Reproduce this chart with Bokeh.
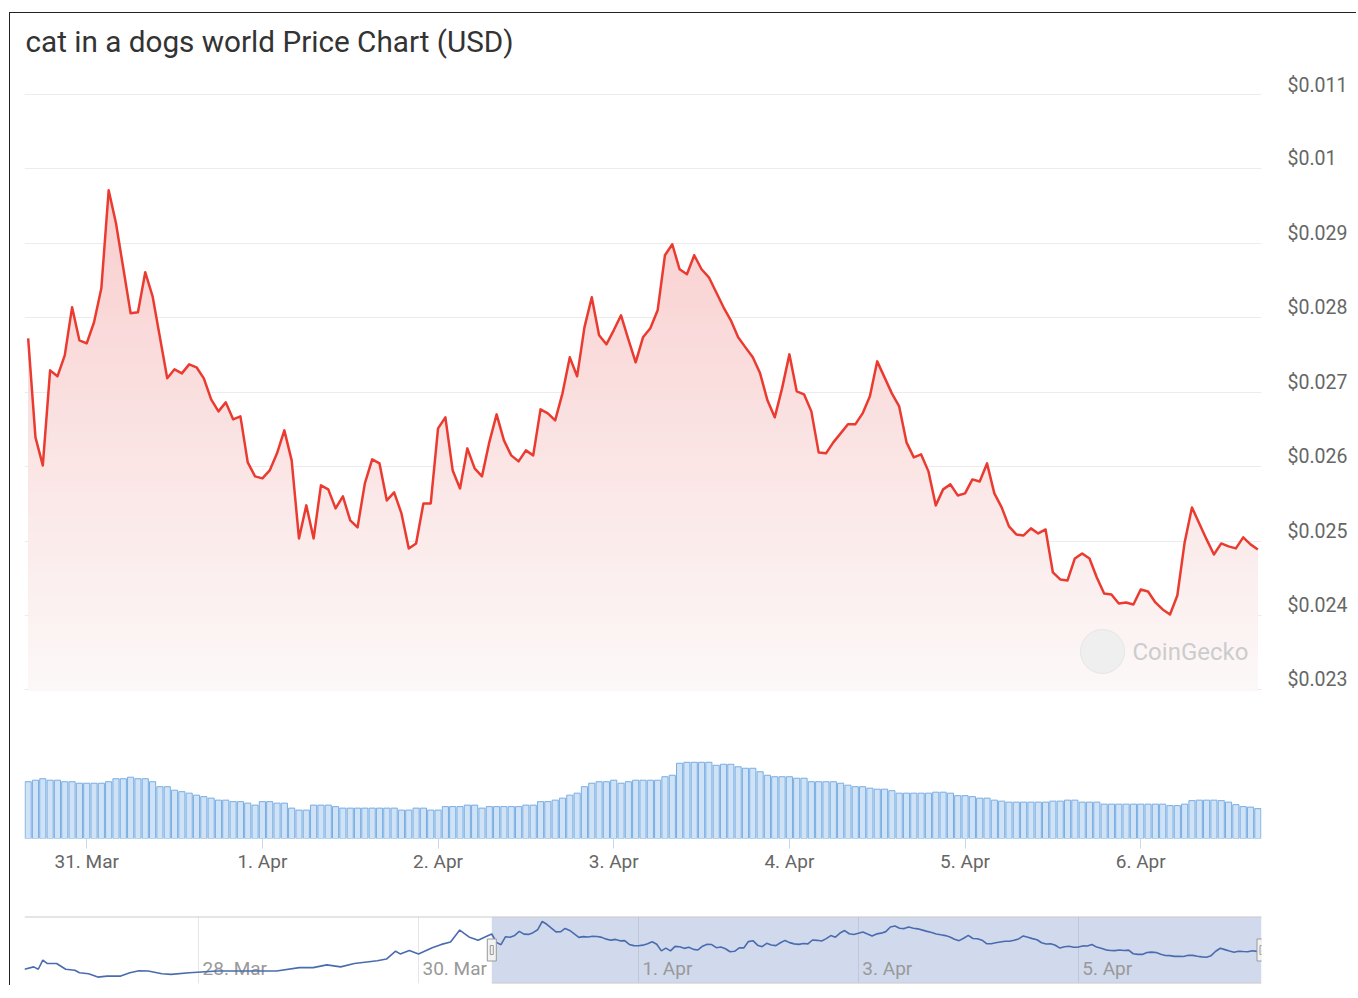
import numpy as np
import pandas as pd
from bokeh.plotting import figure
from bokeh.models import (Range1d, LinearAxis, FixedTicker, BoxAnnotation, Label, Grid)
from bokeh.layouts import column
from bokeh.embed import file_html
from bokeh.resources import INLINE
from bokeh.core.properties import value

TITLE = "cat in a dogs world Price Chart (USD)"
PRICE_START = "2024-03-30 16:00"   # hourly points

price_usd = [
    0.027724, 0.026394, 0.026017, 0.027294, 0.027214, 0.027496, 0.028141, 0.027698, 0.027657, 0.027940,
    0.028397, 0.029714, 0.029270, 0.028665, 0.028060, 0.028074, 0.028612, 0.028289, 0.027738, 0.027187,
    0.027308, 0.027254, 0.027375, 0.027335, 0.027187, 0.026905, 0.026743, 0.026864, 0.026636, 0.026676,
    0.026058, 0.025870, 0.025843, 0.025950, 0.026179, 0.026488, 0.026085, 0.025036, 0.025480, 0.025036,
    0.025749, 0.025695, 0.025440, 0.025601, 0.025278, 0.025184, 0.025776, 0.026098, 0.026044, 0.025547,
    0.025655, 0.025372, 0.024902, 0.024969, 0.025507, 0.025507, 0.026515, 0.026663, 0.025950, 0.025708,
    0.026246, 0.025977, 0.025870, 0.026327, 0.026703, 0.026353, 0.026152, 0.026071, 0.026219, 0.026152,
    0.026770, 0.026716, 0.026622, 0.026985, 0.027469, 0.027214, 0.027872, 0.028276, 0.027765, 0.027644,
    0.027832, 0.028034, 0.027711, 0.027402, 0.027738, 0.027859, 0.028101, 0.028840, 0.028988, 0.028652,
    0.028585, 0.028840, 0.028652, 0.028544, 0.028343, 0.028141, 0.027966, 0.027738, 0.027603, 0.027469,
    0.027254, 0.026891, 0.026663, 0.027052, 0.027509, 0.027012, 0.026972, 0.026743, 0.026192, 0.026179,
    0.026327, 0.026448, 0.026569, 0.026569, 0.026716, 0.026945, 0.027415, 0.027200, 0.026985, 0.026810,
    0.026327, 0.026125, 0.026165, 0.025937, 0.025480, 0.025695, 0.025762, 0.025614, 0.025641, 0.025829,
    0.025802, 0.026044, 0.025641, 0.025453, 0.025198, 0.025090, 0.025077, 0.025171, 0.025103, 0.025157,
    0.024579, 0.024485, 0.024472, 0.024767, 0.024835, 0.024767, 0.024512, 0.024297, 0.024284, 0.024163,
    0.024176, 0.024149, 0.024351, 0.024324, 0.024176, 0.024082, 0.024015, 0.024270, 0.024983, 0.025453,
    0.025238, 0.025023, 0.024821, 0.024969, 0.024929, 0.024902, 0.025050, 0.024956, 0.024888,
]

volume_k = [
    114, 117, 120, 117, 117, 114, 114, 111, 111, 111, 111, 114, 120, 120, 123, 120, 120, 114, 104, 104,
    97, 94, 91, 87, 84, 81, 77, 77, 74, 74, 71, 67, 74, 74, 71, 71, 61, 57, 57, 67,
    67, 67, 64, 61, 61, 61, 61, 61, 61, 61, 61, 57, 57, 61, 61, 57, 57, 64, 64, 64,
    67, 67, 61, 64, 64, 64, 64, 64, 67, 67, 74, 74, 77, 81, 87, 91, 104, 111, 114, 114,
    117, 111, 114, 117, 117, 117, 117, 124, 127, 151, 153, 153, 153, 153, 147, 149, 149, 144, 141, 141,
    134, 127, 124, 124, 124, 121, 121, 114, 114, 114, 114, 111, 107, 104, 104, 101, 99, 99, 96, 91,
    91, 91, 91, 91, 93, 93, 91, 86, 86, 84, 81, 81, 77, 75, 73, 73, 73, 73, 73, 73,
    75, 75, 77, 77, 73, 73, 73, 69, 69, 69, 69, 69, 69, 69, 69, 69, 66, 66, 69, 76,
    77, 77, 77, 76, 73, 68, 64, 63, 60,
]

nav_early_times = [
    "2024-03-26 10:00", "2024-03-26 12:00", "2024-03-26 13:00", "2024-03-26 14:00", "2024-03-26 15:00",
    "2024-03-26 17:00", "2024-03-26 19:00", "2024-03-26 21:00", "2024-03-26 22:00", "2024-03-27 00:00",
    "2024-03-27 02:00", "2024-03-27 04:00", "2024-03-27 07:00", "2024-03-27 09:00", "2024-03-27 11:00",
    "2024-03-27 13:00", "2024-03-27 16:00", "2024-03-27 18:00", "2024-03-27 22:00", "2024-03-28 04:00",
    "2024-03-28 10:00", "2024-03-28 17:00", "2024-03-28 22:00", "2024-03-29 01:00", "2024-03-29 04:00",
    "2024-03-29 07:00", "2024-03-29 10:00", "2024-03-29 15:00", "2024-03-29 17:00", "2024-03-29 19:00",
    "2024-03-29 20:00", "2024-03-29 22:00", "2024-03-30 00:00", "2024-03-30 03:00", "2024-03-30 05:00",
    "2024-03-30 07:00", "2024-03-30 09:00", "2024-03-30 11:00", "2024-03-30 13:00", "2024-03-30 15:00",
]
nav_early_price = [
    0.02211, 0.02249, 0.02211, 0.02358, 0.02302, 0.02302, 0.02211, 0.02195, 0.02156, 0.02139,
    0.02086, 0.02102, 0.02102, 0.02156, 0.02188, 0.02183, 0.02139, 0.02130, 0.02156, 0.02183,
    0.02183, 0.02183, 0.02237, 0.02237, 0.02281, 0.02249, 0.02302, 0.02346, 0.02374, 0.02498,
    0.02455, 0.02509, 0.02455, 0.02553, 0.02607, 0.02644, 0.02835, 0.02726, 0.02672, 0.02742,
]

y_ticks_mills = [23, 24, 25, 26, 27, 28, 29, 30, 31]
y_tick_labels = ["$0.023", "$0.024", "$0.025", "$0.026", "$0.027", "$0.028", "$0.029", "$0.01", "$0.011"]
x_tick_days = ["2024-03-31", "2024-04-01", "2024-04-02", "2024-04-03", "2024-04-04", "2024-04-05", "2024-04-06"]
x_tick_labels = ["31. Mar", "1. Apr", "2. Apr", "3. Apr", "4. Apr", "5. Apr", "6. Apr"]
nav_tick_days = ["2024-03-28", "2024-03-30", "2024-04-01", "2024-04-03", "2024-04-05"]
nav_tick_labels = ["28. Mar", "30. Mar", "1. Apr", "3. Apr", "5. Apr"]

# ---------------------------------------------------------------- helpers
HOUR = 3600 * 1000
FONT = "Roboto"

def to_ms(ts):
    return (pd.DatetimeIndex(ts).asi8 // 10**6)

def drop_default_grids(p):
    p.center = [c for c in p.center if not isinstance(c, Grid)]

times = pd.date_range(PRICE_START, periods=len(price_usd), freq="h")
x = to_ms(times).astype(float)
price = np.array(price_usd)
vol = np.array(volume_k, dtype=float)
x0, x1 = x[0], x[-1]

FRAME_W = 1237
LEFT = 14
RIGHT = 95
COMMON = dict(output_backend="svg", toolbar_location=None, outline_line_color=None,
              min_border_left=LEFT, min_border_right=RIGHT)

# ---------------------------------------------------------------- title strip
TITLE_H = 60
pT = figure(frame_width=FRAME_W, frame_height=TITLE_H, x_range=Range1d(0, 1), y_range=Range1d(0, 1),
            x_axis_location=None, y_axis_location=None, min_border_top=0, min_border_bottom=0, **COMMON)
drop_default_grids(pT)
pT.text(x=[0], y=[1 - 28 / TITLE_H], text=[TITLE], x_offset=1, text_align="left",
        text_baseline="middle", text_font=value(FONT), text_font_size="29.7px", text_color="#333333")

# ---------------------------------------------------------------- price pane
xr = Range1d(x0 - 0.5 * HOUR, x1 + 0.5 * HOUR)
PX_PER_MILL = 74.4
FRAME_H = 614
pad_top = 11.0 / PX_PER_MILL / 1000
pad_bot = 7.5 / PX_PER_MILL / 1000
yr = Range1d(y_ticks_mills[0] / 1000 - pad_bot, y_ticks_mills[-1] / 1000 + pad_top)
lab_shift = 10 / PX_PER_MILL / 1000

pA = figure(frame_width=FRAME_W, frame_height=FRAME_H, x_range=xr, y_range=yr,
            x_axis_location=None, y_axis_location=None, min_border_top=10, min_border_bottom=0, **COMMON)
drop_default_grids(pA)
pA.add_layout(Grid(dimension=1, ticker=FixedTicker(ticks=[v / 1000 for v in y_ticks_mills]),
                   grid_line_color="#ececec", grid_line_width=1))

pA.extra_y_ranges = {"lab": Range1d((yr.start - lab_shift) * 1000, (yr.end - lab_shift) * 1000)}
yax = LinearAxis(y_range_name="lab", ticker=FixedTicker(ticks=y_ticks_mills),
                 major_label_overrides=dict(zip(y_ticks_mills, y_tick_labels)),
                 axis_line_color=None, major_tick_line_color=None, minor_tick_line_color=None,
                 major_tick_out=0, major_tick_in=0, major_label_standoff=26,
                 major_label_text_font=FONT, major_label_text_font_size="19.5px",
                 major_label_text_color="#666666")
pA.add_layout(yax, "right")

# gradient fill as stacked layers
fill_base = yr.start + 7.0 / PX_PER_MILL / 1000
pmax = price.max()
top_rgb = np.array([249, 206, 206])
bot_rgb = np.array([252, 248, 248])
N = 60
levels = np.linspace(fill_base, pmax, N + 1)[1:]
for k in range(N - 1, -1, -1):
    L = levels[k]
    tcol = (L - (pmax - fill_base) / (2 * N) - fill_base) / (pmax - fill_base)
    rgb = bot_rgb + (top_rgb - bot_rgb) * tcol
    col = "#%02x%02x%02x" % tuple(int(round(c)) for c in rgb)
    pA.varea(x=x, y1=fill_base, y2=np.minimum(price, L), fill_color=col, fill_alpha=1.0)

pA.line(x=x, y=price, line_color="#eb3b30", line_width=2.5, line_join="round")

# watermark (position in frame pixels, converted through the ranges)
wm_x = xr.start + 1078 / FRAME_W * (xr.end - xr.start)
wm_y = yr.start + 46 / FRAME_H * (yr.end - yr.start)
pA.scatter(x=[wm_x], y=[wm_y], size=44, marker="circle", fill_color="#efefef", line_color="#e6e6e6")
pA.add_layout(Label(x=1108, y=46, x_units="screen", y_units="screen", text="CoinGecko",
                    text_font=FONT, text_font_size="24px", text_color="#cccccc",
                    text_align="left", text_baseline="middle"))

# ---------------------------------------------------------------- volume pane
pB = figure(frame_width=FRAME_W, frame_height=141, x_range=xr,
            y_range=Range1d(0, vol.max() * 1.85),
            x_axis_location="below", y_axis_location=None, min_border_top=0, min_border_bottom=52,
            **COMMON)
drop_default_grids(pB)
pB.vbar(x=x, top=vol, bottom=0, width=0.84 * HOUR, fill_color="#cfe2f6", line_color="#78ade2",
        line_width=1)
x_tick_ms = [int(v) for v in to_ms(x_tick_days)]
pB.xaxis.ticker = FixedTicker(ticks=x_tick_ms)
pB.xaxis.major_label_overrides = dict(zip(x_tick_ms, x_tick_labels))
pB.xaxis.axis_line_color = None
pB.xaxis.major_tick_line_color = "#ccd6eb"
pB.xaxis.major_tick_out = 10
pB.xaxis.major_tick_in = 0
pB.xaxis.minor_tick_line_color = None
pB.xaxis.major_label_standoff = 1
pB.xaxis.major_label_text_font = FONT
pB.xaxis.major_label_text_font_size = "19px"
pB.xaxis.major_label_text_color = "#666666"

# ---------------------------------------------------------------- navigator
nav_x = np.concatenate([to_ms(nav_early_times).astype(float), x])
nav_y = np.concatenate([np.array(nav_early_price), price])
lo, hi = nav_y.min(), nav_y.max()
span = hi - lo
nyr = Range1d(lo - span * 0.115, hi + span * 0.09)
nxr = Range1d(nav_x[0], x1)
pC = figure(frame_width=FRAME_W, frame_height=67, x_range=nxr, y_range=nyr,
            x_axis_location=None, y_axis_location=None, min_border_top=26, min_border_bottom=2,
            **COMMON)
drop_default_grids(pC)
nav_tick_ms = [int(v) for v in to_ms(nav_tick_days)]
pC.add_layout(Grid(dimension=0, ticker=FixedTicker(ticks=nav_tick_ms), grid_line_color="#e6e6e6"))
pC.add_layout(BoxAnnotation(left=x0, right=x1, fill_color="#6685c2", fill_alpha=0.3,
                            line_color=None, level="underlay"))
pC.text(x=nav_tick_ms, y=[nyr.start] * len(nav_tick_ms), text=nav_tick_labels,
        text_align="left", text_baseline="alphabetic", x_offset=4, y_offset=-15,
        text_font=value(FONT), text_font_size="19px", text_color="#999999")
pC.line(x=nav_x, y=nav_y, line_color="#4a6cae", line_width=1.6)
pC.line(x=[nav_x[0], x1], y=[nyr.end, nyr.end], line_color="#cccccc", line_width=2)
pC.line(x=[x0, x1], y=[nyr.start, nyr.start], line_color="#cccccc", line_width=2)
mid = (nyr.start + nyr.end) / 2
pC.rect(x=[x0, x1], y=[mid, mid], width=9, height=22, width_units="screen", height_units="screen",
        fill_color="#f2f2f2", line_color="#999999", line_width=1)
pC.rect(x=[x0, x1], y=[mid, mid], width=3, height=9, width_units="screen", height_units="screen",
        fill_color="#f2f2f2", line_color="#999999", line_width=1)

layout = column(pT, pA, pB, pC, spacing=0, margin=(12, 0, 0, 9),
                styles={"border-top": "1px solid #222222", "border-left": "1px solid #222222"})

open("out.html", "w").write(file_html(layout, INLINE))
